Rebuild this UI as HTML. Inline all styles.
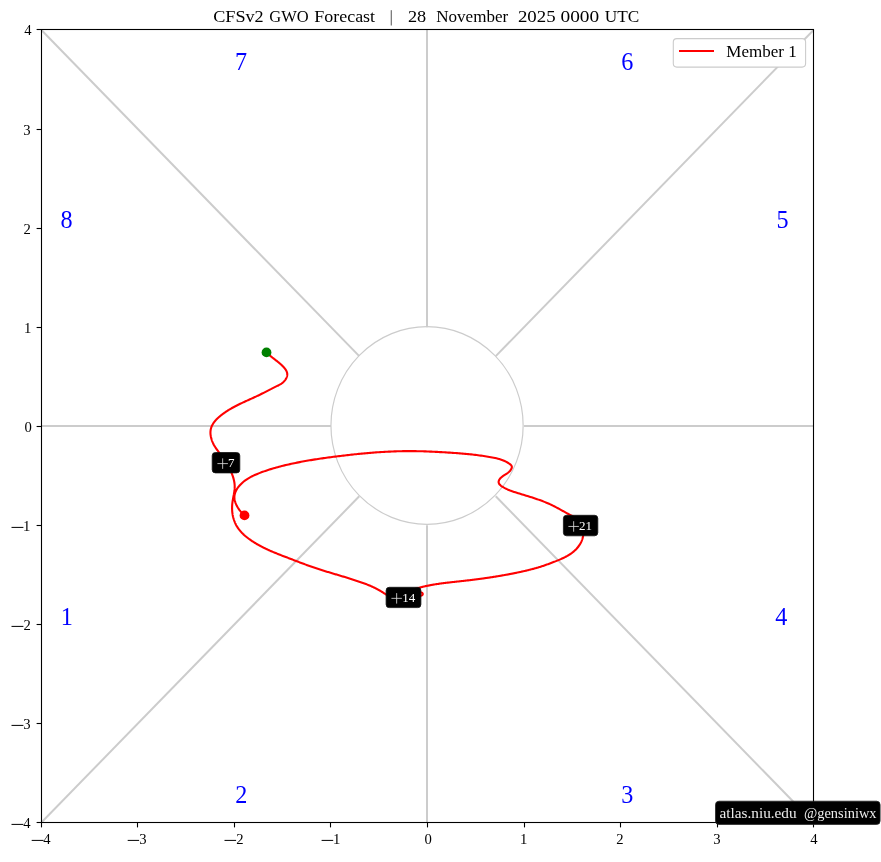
<!DOCTYPE html>
<html><head><meta charset="utf-8"><style>
html,body{margin:0;padding:0;background:#fff;width:881px;height:862px;overflow:hidden}
svg{display:block;will-change:transform}
text{font-family:"Liberation Serif",serif}
.ph{fill:#0000ff}
.tk{fill:#000}
.tt{font-size:17.5px;fill:#000}
.lg{font-size:17.5px;fill:#000}
.lb{fill:#fff}
.wm{font-size:14px;fill:#ececec}
</style></head><body>
<svg width="881" height="862" viewBox="0 0 881 862">
<g stroke="#cccccc" stroke-width="2" fill="none">
<line x1="41.4" y1="426" x2="330.98" y2="426"/>
<line x1="524.02" y1="426" x2="813.6" y2="426"/>
<line x1="427" y1="29.95" x2="427" y2="327.16"/>
<line x1="427" y1="525.29" x2="427" y2="822.5"/>
<line x1="41.4" y1="29.95" x2="359.25" y2="356.17"/>
<line x1="813.6" y1="29.95" x2="495.75" y2="356.17"/>
<line x1="41.4" y1="822.5" x2="359.25" y2="496.28"/>
<line x1="813.6" y1="822.5" x2="495.75" y2="496.28"/>
</g>
<ellipse cx="427.05" cy="425.5" rx="96.1" ry="98.8" stroke="#cccccc" stroke-width="1.2" fill="none"/>
<text x="234.95" y="69.70" class="ph" style="font-size:24.2px">7</text>
<text x="621.29" y="69.70" class="ph" style="font-size:24.2px">6</text>
<text x="60.50" y="227.60" class="ph" style="font-size:24.2px">8</text>
<text x="776.47" y="227.60" class="ph" style="font-size:24.2px">5</text>
<text x="60.76" y="625.10" class="ph" style="font-size:24.2px">1</text>
<text x="775.35" y="625.10" class="ph" style="font-size:24.2px">4</text>
<text x="235.34" y="802.80" class="ph" style="font-size:24.2px">2</text>
<text x="621.19" y="802.60" class="ph" style="font-size:24.2px">3</text>
<path d="M266.42 352.35 L266.82 352.75 L267.22 353.14 L267.62 353.52 L268.02 353.90 L268.43 354.27 L268.84 354.63 L269.24 354.99 L269.65 355.34 L270.07 355.69 L270.48 356.03 L270.89 356.37 L271.31 356.71 L271.72 357.04 L272.14 357.37 L272.55 357.70 L272.97 358.03 L273.39 358.35 L273.81 358.68 L274.23 359.00 L274.65 359.32 L275.07 359.65 L275.49 359.97 L275.91 360.30 L276.33 360.62 L276.75 360.95 L277.17 361.29 L277.59 361.62 L278.01 361.96 L278.43 362.30 L278.85 362.65 L279.27 363.00 L279.69 363.35 L280.11 363.71 L280.52 364.08 L280.94 364.45 L281.35 364.83 L281.76 365.22 L282.18 365.61 L282.59 366.02 L282.99 366.43 L283.39 366.84 L283.78 367.26 L284.16 367.69 L284.53 368.13 L284.88 368.57 L285.22 369.02 L285.53 369.47 L285.83 369.93 L286.11 370.39 L286.36 370.86 L286.58 371.33 L286.78 371.81 L286.94 372.29 L287.08 372.77 L287.17 373.26 L287.24 373.75 L287.26 374.24 L287.25 374.74 L287.20 375.23 L287.13 375.73 L287.02 376.22 L286.87 376.72 L286.70 377.21 L286.51 377.69 L286.28 378.17 L286.03 378.64 L285.76 379.11 L285.46 379.57 L285.14 380.02 L284.81 380.46 L284.45 380.89 L284.08 381.31 L283.69 381.71 L283.28 382.11 L282.87 382.48 L282.44 382.84 L282.00 383.19 L281.55 383.52 L281.09 383.83 L280.62 384.12 L280.15 384.41 L279.67 384.68 L279.19 384.94 L278.71 385.20 L278.22 385.44 L277.72 385.69 L277.23 385.93 L276.74 386.16 L276.24 386.40 L275.75 386.64 L275.26 386.88 L274.77 387.12 L274.28 387.36 L273.79 387.61 L273.30 387.85 L272.81 388.10 L272.33 388.34 L271.84 388.59 L271.36 388.84 L270.87 389.08 L270.39 389.33 L269.91 389.58 L269.42 389.83 L268.94 390.08 L268.46 390.33 L267.98 390.58 L267.50 390.83 L267.01 391.08 L266.53 391.33 L266.05 391.58 L265.57 391.83 L265.09 392.08 L264.61 392.33 L264.13 392.57 L263.65 392.82 L263.17 393.07 L262.69 393.31 L262.20 393.56 L261.72 393.80 L261.24 394.04 L260.76 394.28 L260.27 394.52 L259.79 394.76 L259.30 394.99 L258.82 395.23 L258.33 395.46 L257.84 395.69 L257.36 395.92 L256.87 396.15 L256.38 396.38 L255.89 396.61 L255.40 396.84 L254.91 397.06 L254.42 397.29 L253.93 397.51 L253.44 397.74 L252.95 397.96 L252.46 398.18 L251.97 398.40 L251.48 398.63 L250.99 398.85 L250.50 399.07 L250.01 399.29 L249.52 399.51 L249.03 399.73 L248.53 399.95 L248.04 400.18 L247.55 400.40 L247.06 400.62 L246.57 400.84 L246.08 401.06 L245.59 401.29 L245.10 401.51 L244.61 401.73 L244.12 401.96 L243.63 402.18 L243.14 402.41 L242.65 402.64 L242.17 402.87 L241.68 403.10 L241.19 403.33 L240.70 403.56 L240.22 403.79 L239.73 404.03 L239.25 404.26 L238.76 404.50 L238.28 404.74 L237.80 404.98 L237.31 405.22 L236.83 405.46 L236.35 405.71 L235.87 405.96 L235.39 406.20 L234.91 406.46 L234.44 406.71 L233.96 406.96 L233.48 407.22 L233.01 407.48 L232.54 407.74 L232.06 408.01 L231.59 408.28 L231.12 408.55 L230.65 408.82 L230.18 409.09 L229.72 409.37 L229.25 409.65 L228.79 409.94 L228.32 410.22 L227.86 410.51 L227.40 410.81 L226.94 411.10 L226.48 411.40 L226.03 411.70 L225.57 412.01 L225.12 412.32 L224.67 412.63 L224.22 412.95 L223.77 413.27 L223.32 413.59 L222.87 413.92 L222.43 414.25 L221.99 414.59 L221.55 414.93 L221.11 415.27 L220.67 415.62 L220.24 415.97 L219.81 416.33 L219.39 416.69 L218.96 417.06 L218.55 417.43 L218.14 417.80 L217.73 418.18 L217.33 418.56 L216.94 418.95 L216.56 419.34 L216.18 419.74 L215.81 420.14 L215.45 420.55 L215.10 420.96 L214.75 421.37 L214.42 421.79 L214.10 422.22 L213.78 422.65 L213.48 423.09 L213.19 423.53 L212.92 423.97 L212.65 424.42 L212.40 424.88 L212.16 425.34 L211.93 425.81 L211.72 426.28 L211.53 426.76 L211.35 427.24 L211.18 427.73 L211.03 428.23 L210.90 428.73 L210.78 429.23 L210.68 429.74 L210.60 430.26 L210.54 430.78 L210.49 431.31 L210.46 431.84 L210.45 432.38 L210.45 432.92 L210.47 433.46 L210.50 434.01 L210.55 434.55 L210.62 435.10 L210.70 435.65 L210.79 436.20 L210.89 436.75 L211.01 437.30 L211.14 437.85 L211.28 438.40 L211.44 438.94 L211.60 439.49 L211.78 440.03 L211.96 440.56 L212.16 441.10 L212.37 441.63 L212.58 442.15 L212.81 442.67 L213.04 443.18 L213.28 443.68 L213.53 444.18 L213.78 444.68 L214.05 445.16 L214.32 445.63 L214.59 446.10 L214.87 446.56 L215.16 447.02 L215.45 447.47 L215.74 447.91 L216.04 448.35 L216.34 448.78 L216.64 449.21 L216.95 449.64 L217.26 450.07 L217.57 450.49 L217.88 450.91 L218.20 451.34 L218.51 451.76 L218.82 452.18 L219.14 452.61 L219.45 453.03 L219.76 453.46 L220.07 453.89 L220.38 454.32 L220.68 454.76 L220.99 455.20 L221.28 455.65 L221.58 456.11 L221.87 456.57 L222.16 457.04 L222.44 457.51 L222.71 457.99 L222.98 458.49 L223.25 458.99 L223.50 459.50 M228.41 466.53 L228.78 467.22 L229.14 467.92 L229.50 468.62 L229.86 469.33 L230.20 470.04 L230.55 470.76 L230.88 471.48 L231.20 472.21 L231.52 472.94 L231.83 473.67 L232.12 474.41 L232.41 475.15 L232.68 475.90 L232.93 476.65 L233.18 477.40 L233.40 478.15 L233.62 478.91 L233.81 479.67 L233.99 480.43 L234.15 481.20 L234.29 481.97 L234.41 482.73 L234.52 483.51 L234.59 484.28 L234.65 485.05 L234.68 485.83 L234.69 486.60 L234.68 487.38 L234.65 488.15 L234.60 488.93 L234.53 489.71 L234.44 490.49 L234.34 491.27 L234.23 492.05 L234.10 492.84 L233.97 493.62 L233.84 494.40 L233.69 495.19 L233.55 495.98 L233.40 496.76 L233.25 497.55 L233.10 498.34 L232.96 499.13 L232.82 499.92 L232.69 500.72 L232.57 501.51 L232.46 502.30 L232.36 503.10 L232.28 503.89 L232.21 504.69 L232.15 505.49 L232.11 506.28 L232.09 507.08 L232.08 507.88 L232.08 508.67 L232.10 509.47 L232.14 510.26 L232.19 511.05 L232.26 511.84 L232.34 512.62 L232.44 513.40 L232.55 514.18 L232.68 514.95 L232.83 515.72 L232.99 516.49 L233.17 517.25 L233.37 518.01 L233.58 518.76 L233.80 519.50 L234.05 520.24 L234.31 520.97 L234.59 521.70 L234.88 522.41 L235.19 523.12 L235.52 523.82 L235.86 524.52 L236.22 525.20 L236.60 525.88 L237.00 526.54 L237.41 527.20 L237.84 527.84 L238.28 528.48 L238.74 529.11 L239.22 529.73 L239.71 530.34 L240.21 530.94 L240.73 531.54 L241.26 532.12 L241.80 532.70 L242.36 533.26 L242.92 533.82 L243.50 534.37 L244.08 534.92 L244.68 535.45 L245.28 535.98 L245.90 536.50 L246.52 537.01 L247.15 537.51 L247.79 538.01 L248.43 538.50 L249.08 538.98 L249.74 539.45 L250.40 539.92 L251.07 540.38 L251.74 540.83 L252.41 541.28 L253.09 541.72 L253.77 542.15 L254.46 542.58 L255.14 543.00 L255.83 543.41 L256.51 543.82 L257.20 544.22 L257.90 544.62 L258.59 545.01 L259.28 545.40 L259.98 545.78 L260.68 546.15 L261.38 546.52 L262.08 546.88 L262.78 547.24 L263.48 547.60 L264.19 547.95 L264.89 548.30 L265.60 548.64 L266.31 548.98 L267.02 549.31 L267.73 549.64 L268.44 549.97 L269.15 550.29 L269.87 550.61 L270.58 550.92 L271.30 551.24 L272.02 551.55 L272.74 551.85 L273.46 552.16 L274.18 552.46 L274.90 552.76 L275.62 553.06 L276.35 553.35 L277.07 553.64 L277.80 553.94 L278.52 554.23 L279.25 554.51 L279.98 554.80 L280.71 555.08 L281.44 555.37 L282.17 555.65 L282.90 555.93 L283.63 556.21 L284.36 556.50 L285.09 556.78 L285.83 557.06 L286.56 557.34 L287.30 557.61 L288.03 557.89 L288.77 558.17 L289.50 558.46 L290.24 558.74 L290.97 559.02 L291.71 559.30 L292.45 559.58 L293.19 559.86 L293.92 560.15 L294.66 560.43 L295.40 560.71 L296.14 561.00 L296.88 561.28 L297.62 561.56 L298.36 561.85 L299.10 562.13 L299.84 562.41 L300.59 562.69 L301.33 562.97 L302.07 563.25 L302.81 563.53 L303.56 563.81 L304.30 564.08 L305.05 564.36 L305.79 564.63 L306.54 564.91 L307.28 565.18 L308.03 565.45 L308.77 565.72 L309.52 565.98 L310.27 566.25 L311.02 566.51 L311.76 566.78 L312.51 567.04 L313.26 567.29 L314.01 567.55 L314.76 567.80 L315.51 568.05 L316.26 568.30 L317.01 568.55 L317.76 568.80 L318.52 569.04 L319.27 569.29 L320.02 569.53 L320.77 569.77 L321.53 570.01 L322.28 570.25 L323.03 570.48 L323.79 570.72 L324.54 570.95 L325.29 571.19 L326.05 571.42 L326.80 571.65 L327.56 571.88 L328.31 572.11 L329.07 572.34 L329.82 572.57 L330.57 572.79 L331.33 573.02 L332.08 573.25 L332.84 573.47 L333.60 573.70 L334.35 573.92 L335.11 574.15 L335.86 574.37 L336.62 574.60 L337.37 574.82 L338.13 575.05 L338.88 575.27 L339.64 575.50 L340.39 575.73 L341.15 575.95 L341.90 576.18 L342.66 576.41 L343.41 576.63 L344.16 576.86 L344.92 577.09 L345.67 577.32 L346.43 577.55 L347.18 577.78 L347.93 578.01 L348.69 578.25 L349.44 578.48 L350.19 578.71 L350.94 578.95 L351.69 579.19 L352.45 579.43 L353.20 579.67 L353.95 579.91 L354.70 580.15 L355.45 580.40 L356.20 580.64 L356.95 580.89 L357.70 581.14 L358.44 581.39 L359.19 581.65 L359.94 581.90 L360.69 582.16 L361.43 582.42 L362.18 582.68 L362.92 582.95 L363.66 583.22 L364.40 583.49 L365.14 583.77 L365.88 584.05 L366.62 584.33 L367.35 584.62 L368.08 584.92 L368.81 585.21 L369.54 585.52 L370.27 585.82 L370.99 586.14 L371.71 586.45 L372.43 586.78 L373.15 587.11 L373.86 587.44 L374.57 587.78 L375.28 588.13 L375.98 588.49 L376.68 588.85 L377.38 589.22 L378.07 589.59 L378.76 589.98 L379.45 590.37 L380.13 590.77 L380.81 591.17 L381.49 591.58 L382.16 592.00 L382.83 592.42 L383.50 592.84 L384.17 593.27 L384.84 593.70 L385.50 594.12 L386.17 594.55 L386.84 594.97 L387.51 595.39 L388.19 595.81 L388.86 596.22 L389.54 596.62 L390.22 597.02 L390.91 597.41 L391.60 597.79 L392.29 598.16 L392.99 598.51 M409.96 590.72 L410.58 590.49 L411.20 590.26 L411.81 590.04 L412.43 589.83 L413.05 589.61 L413.67 589.40 L414.30 589.20 L414.92 589.00 L415.54 588.80 L416.17 588.61 L416.79 588.42 L417.42 588.23 L418.05 588.05 L418.67 587.88 L419.30 587.70 L419.93 587.53 L420.56 587.36 L421.19 587.20 L421.82 587.04 L422.45 586.88 L423.09 586.73 L423.72 586.58 L424.35 586.43 L424.99 586.28 L425.62 586.14 L426.26 586.00 L426.89 585.87 L427.53 585.74 L428.17 585.61 L428.81 585.48 L429.45 585.35 L430.08 585.23 L430.72 585.11 L431.36 584.99 L432.00 584.88 L432.65 584.76 L433.29 584.65 L433.93 584.55 L434.57 584.44 L435.21 584.33 L435.86 584.23 L436.50 584.13 L437.15 584.03 L437.79 583.94 L438.44 583.84 L439.08 583.75 L439.73 583.66 L440.37 583.57 L441.02 583.48 L441.66 583.39 L442.31 583.31 L442.96 583.22 L443.61 583.14 L444.25 583.06 L444.90 582.98 L445.55 582.90 L446.20 582.82 L446.85 582.74 L447.50 582.66 L448.15 582.59 L448.79 582.51 L449.44 582.44 L450.09 582.37 L450.74 582.29 L451.39 582.22 L452.04 582.15 L452.69 582.08 L453.34 582.01 L453.99 581.93 L454.64 581.86 L455.29 581.79 L455.94 581.72 L456.59 581.65 L457.24 581.58 L457.90 581.51 L458.55 581.44 L459.20 581.37 L459.85 581.30 L460.50 581.23 L461.15 581.16 L461.80 581.08 L462.45 581.01 L463.10 580.94 L463.75 580.87 L464.40 580.79 L465.05 580.72 L465.70 580.64 L466.35 580.57 L467.00 580.49 L467.65 580.41 L468.29 580.34 L468.94 580.26 L469.59 580.18 L470.24 580.11 L470.89 580.03 L471.54 579.95 L472.19 579.87 L472.84 579.79 L473.49 579.71 L474.14 579.63 L474.78 579.54 L475.43 579.46 L476.08 579.38 L476.73 579.29 L477.38 579.21 L478.03 579.13 L478.67 579.04 L479.32 578.95 L479.97 578.87 L480.62 578.78 L481.26 578.69 L481.91 578.60 L482.56 578.52 L483.21 578.43 L483.85 578.34 L484.50 578.25 L485.15 578.15 L485.79 578.06 L486.44 577.97 L487.09 577.87 L487.73 577.78 L488.38 577.69 L489.02 577.59 L489.67 577.49 L490.32 577.40 L490.96 577.30 L491.61 577.20 L492.25 577.10 L492.90 577.00 L493.54 576.90 L494.19 576.80 L494.83 576.70 L495.48 576.59 L496.12 576.49 L496.77 576.39 L497.41 576.28 L498.05 576.17 L498.70 576.07 L499.34 575.96 L499.98 575.85 L500.63 575.74 L501.27 575.63 L501.91 575.52 L502.56 575.41 L503.20 575.30 L503.84 575.18 L504.48 575.07 L505.13 574.95 L505.77 574.84 L506.41 574.72 L507.05 574.60 L507.69 574.48 L508.33 574.36 L508.97 574.24 L509.61 574.12 L510.26 574.00 L510.90 573.87 L511.54 573.75 L512.18 573.62 L512.82 573.50 L513.46 573.37 L514.09 573.24 L514.73 573.11 L515.37 572.98 L516.01 572.85 L516.65 572.72 L517.29 572.59 L517.93 572.45 L518.57 572.32 L519.20 572.18 L519.84 572.05 L520.48 571.91 L521.11 571.77 L521.75 571.63 L522.39 571.49 L523.02 571.34 L523.66 571.20 L524.30 571.06 L524.93 570.91 L525.57 570.76 L526.20 570.61 L526.84 570.46 L527.47 570.31 L528.10 570.16 L528.74 570.00 L529.37 569.85 L530.00 569.69 L530.63 569.53 L531.26 569.36 L531.89 569.20 L532.52 569.04 L533.15 568.87 L533.78 568.70 L534.40 568.53 L535.03 568.35 L535.66 568.18 L536.28 568.00 L536.91 567.82 L537.53 567.63 L538.15 567.45 L538.77 567.26 L539.40 567.07 L540.02 566.88 L540.63 566.68 L541.25 566.48 L541.87 566.28 L542.49 566.08 L543.10 565.88 L543.72 565.67 L544.33 565.46 L544.95 565.25 L545.56 565.03 L546.17 564.82 L546.79 564.60 L547.40 564.38 L548.02 564.16 L548.63 563.93 L549.24 563.71 L549.86 563.48 L550.47 563.25 L551.08 563.02 L551.70 562.79 L552.31 562.56 L552.93 562.32 L553.54 562.09 L554.16 561.85 L554.77 561.61 L555.39 561.37 L556.01 561.13 L556.62 560.88 L557.24 560.64 L557.85 560.39 L558.47 560.14 L559.08 559.88 L559.69 559.62 L560.30 559.36 L560.91 559.09 L561.52 558.82 L562.12 558.55 L562.72 558.27 L563.32 557.99 L563.91 557.70 L564.50 557.41 L565.09 557.11 L565.67 556.80 L566.25 556.49 L566.82 556.18 L567.39 555.85 L567.96 555.53 L568.52 555.19 L569.07 554.85 L569.62 554.50 L570.16 554.14 L570.70 553.78 L571.23 553.41 L571.76 553.03 L572.27 552.64 L572.78 552.24 L573.29 551.83 L573.78 551.42 L574.27 550.99 L574.75 550.56 L575.22 550.12 L575.68 549.67 L576.13 549.21 L576.58 548.74 L577.01 548.26 L577.43 547.77 L577.84 547.28 L578.24 546.77 L578.63 546.26 L579.01 545.74 L579.37 545.21 L579.72 544.67 L580.06 544.13 L580.38 543.57 L580.69 543.01 L580.98 542.44 L581.26 541.87 L581.53 541.28 L581.78 540.69 L582.01 540.09 L582.22 539.49 L582.42 538.87 L582.60 538.25 L582.77 537.63 L582.91 536.99 L583.04 536.35 L583.14 535.71 L583.23 535.05 L583.30 534.39 L583.35 533.72 L583.37 533.05 L583.38 532.37 L583.36 531.69 L583.33 531.00 L583.27 530.30 L583.18 529.60 L583.08 528.89 M578.02 518.97 L576.73 518.36 L575.45 517.74 L574.18 517.11 L572.91 516.46 L571.65 515.80 L570.40 515.13 L569.14 514.45 L567.90 513.76 L566.65 513.07 L565.41 512.38 L564.16 511.68 L562.92 510.99 L561.68 510.30 L560.43 509.61 L559.19 508.92 L557.93 508.24 L556.68 507.57 L555.42 506.91 L554.16 506.26 L552.88 505.62 L551.61 505.00 L550.32 504.39 L549.02 503.81 L547.72 503.23 L546.41 502.68 L545.09 502.14 L543.77 501.61 L542.44 501.10 L541.10 500.60 L539.76 500.11 L538.42 499.63 L537.07 499.16 L535.72 498.70 L534.36 498.25 L533.01 497.81 L531.65 497.37 L530.29 496.94 L528.93 496.51 L527.57 496.09 L526.21 495.67 L524.85 495.26 L523.50 494.84 L522.14 494.43 L520.79 494.01 L519.44 493.59 L518.10 493.18 L516.76 492.76 L515.42 492.33 L514.09 491.90 L512.76 491.45 L511.44 490.99 L510.12 490.50 L508.80 489.97 L507.48 489.41 L506.16 488.81 L504.85 488.15 L503.53 487.44 L502.22 486.66 L500.97 485.80 L499.90 484.84 L499.09 483.75 L498.65 482.54 L498.64 481.27 L499.09 480.02 L499.89 478.82 L500.90 477.74 L502.00 476.79 L503.16 475.95 L504.35 475.17 L505.57 474.41 L506.80 473.61 L508.01 472.74 L509.15 471.77 L510.19 470.66 L511.09 469.40 L511.72 468.06 L511.88 466.77 L511.46 465.64 L510.60 464.66 L509.50 463.80 L508.33 463.00 L507.13 462.28 L505.88 461.61 L504.61 461.01 L503.31 460.45 L501.99 459.95 L500.64 459.49 L499.28 459.08 L497.90 458.70 L496.50 458.35 L495.09 458.03 L493.68 457.73 L492.26 457.45 L490.83 457.19 L489.41 456.94 L487.99 456.70 L486.57 456.47 L485.15 456.25 L483.73 456.03 L482.32 455.82 L480.90 455.62 L479.49 455.43 L478.07 455.24 L476.66 455.07 L475.25 454.89 L473.84 454.73 L472.43 454.57 L471.02 454.41 L469.61 454.27 L468.20 454.12 L466.79 453.99 L465.39 453.85 L463.98 453.73 L462.57 453.60 L461.16 453.49 L459.75 453.37 L458.34 453.26 L456.93 453.15 L455.52 453.05 L454.11 452.95 L452.70 452.85 L451.29 452.76 L449.88 452.67 L448.47 452.58 L447.05 452.49 L445.64 452.41 L444.22 452.32 L442.80 452.24 L441.39 452.16 L439.97 452.08 L438.54 452.00 L437.12 451.92 L435.70 451.85 L434.28 451.78 L432.85 451.71 L431.43 451.64 L430.00 451.58 L428.57 451.52 L427.15 451.46 L425.72 451.41 L424.29 451.36 L422.87 451.31 L421.44 451.27 L420.01 451.24 L418.59 451.20 L417.16 451.18 L415.73 451.15 L414.31 451.13 L412.88 451.12 L411.45 451.11 L410.03 451.11 L408.60 451.11 L407.18 451.12 L405.76 451.13 L404.33 451.15 L402.91 451.17 L401.49 451.20 L400.07 451.23 L398.64 451.27 L397.22 451.31 L395.80 451.35 L394.38 451.40 L392.96 451.46 L391.54 451.52 L390.12 451.58 L388.70 451.65 L387.28 451.72 L385.86 451.79 L384.45 451.87 L383.03 451.95 L381.61 452.04 L380.19 452.13 L378.78 452.23 L377.36 452.32 L375.94 452.42 L374.52 452.53 L373.11 452.64 L371.69 452.75 L370.28 452.86 L368.86 452.98 L367.45 453.10 L366.03 453.23 L364.61 453.36 L363.20 453.49 L361.79 453.62 L360.37 453.76 L358.96 453.90 L357.54 454.04 L356.13 454.18 L354.71 454.33 L353.30 454.48 L351.89 454.63 L350.47 454.79 L349.06 454.95 L347.65 455.10 L346.23 455.27 L344.82 455.43 L343.41 455.60 L341.99 455.76 L340.58 455.93 L339.17 456.11 L337.75 456.28 L336.34 456.46 L334.93 456.63 L333.52 456.81 L332.10 457.00 L330.69 457.18 L329.28 457.37 L327.87 457.56 L326.46 457.75 L325.05 457.95 L323.64 458.15 L322.23 458.35 L320.82 458.55 L319.41 458.76 L318.00 458.98 L316.59 459.19 L315.19 459.41 L313.78 459.63 L312.37 459.86 L310.97 460.09 L309.57 460.33 L308.16 460.57 L306.76 460.81 L305.36 461.06 L303.96 461.31 L302.56 461.57 L301.16 461.83 L299.77 462.10 L298.37 462.37 L296.98 462.65 L295.58 462.93 L294.19 463.21 L292.80 463.51 L291.41 463.81 L290.02 464.11 L288.64 464.42 L287.25 464.74 L285.87 465.06 L284.49 465.39 L283.11 465.72 L281.73 466.07 L280.35 466.42 L278.98 466.78 L277.61 467.15 L276.24 467.53 L274.87 467.92 L273.51 468.31 L272.15 468.72 L270.79 469.13 L269.43 469.56 L268.08 470.00 L266.73 470.44 L265.38 470.90 L264.04 471.37 L262.70 471.86 L261.36 472.35 L260.02 472.86 L258.69 473.38 L257.37 473.91 L256.05 474.47 L254.74 475.04 L253.45 475.64 L252.16 476.26 L250.90 476.91 L249.65 477.59 L248.43 478.30 L247.22 479.04 L246.05 479.83 L244.90 480.65 L243.77 481.52 L242.68 482.44 L241.63 483.40 L240.61 484.41 L239.62 485.47 L238.69 486.58 L237.81 487.74 L237.01 488.95 L236.29 490.19 L235.66 491.47 L235.15 492.78 L234.76 494.13 L234.50 495.49 L234.38 496.88 L234.42 498.28 L234.62 499.70 L234.95 501.11 L235.40 502.51 L235.93 503.88 L236.54 505.21 L237.20 506.50 L237.92 507.73 L238.69 508.93 L239.51 510.07 L240.39 511.18 L241.32 512.24 L242.29 513.27 L243.32 514.25 L244.40 515.20 M412 596.2 C418 596.2 422.8 596.4 422.8 594 C422.8 591.6 418 591.7 412 591.9" stroke="#ff0000" stroke-width="2.1" fill="none" stroke-linejoin="round" stroke-linecap="round"/>
<circle cx="266.5" cy="352.4" r="4.9" fill="#008000"/>
<circle cx="244.5" cy="515.4" r="4.9" fill="#ff0000"/>
<rect x="212.2" y="452.5" width="27.60" height="20.40" rx="3.2" fill="#000" stroke="#111" stroke-width="0.8"/>
<path d="M217.40 463.60H227.90M222.65 458.35V468.85" stroke="#fff" stroke-width="0.85" opacity="0.85"/>
<text x="227.96" y="466.90" class="lb" style="font-size:13.0px">7</text>
<rect x="386.1" y="587.3" width="34.80" height="20.30" rx="3.2" fill="#000" stroke="#111" stroke-width="0.8"/>
<path d="M391.40 598.35H401.90M396.65 593.10V603.60" stroke="#fff" stroke-width="0.85" opacity="0.85"/>
<text x="402.33" y="601.90" class="lb" style="font-size:13.0px">14</text>
<rect x="563.4" y="515.3" width="34.40" height="20.50" rx="3.2" fill="#000" stroke="#111" stroke-width="0.8"/>
<path d="M568.40 526.45H578.90M573.65 521.20V531.70" stroke="#fff" stroke-width="0.85" opacity="0.85"/>
<text x="579.00" y="530.10" class="lb" style="font-size:13.0px">21</text>
<rect x="41.5" y="29.5" width="772" height="793" fill="none" stroke="#000" stroke-width="1.1"/>
<line x1="41.50" y1="822.5" x2="41.50" y2="827.4" stroke="#000" stroke-width="1.1"/>
<line x1="36.6" y1="822.50" x2="41.5" y2="822.50" stroke="#000" stroke-width="1.1"/>
<line x1="31.70" y1="840.4" x2="43.60" y2="840.4" stroke="#000" stroke-width="1.0"/>
<text x="43.31" y="843.70" class="tk" style="font-size:14.65px">4</text>
<line x1="11.5" y1="824.40" x2="23.4" y2="824.40" stroke="#000" stroke-width="1.0"/>
<text x="23.21" y="827.90" class="tk" style="font-size:14.65px">4</text>
<line x1="137.50" y1="822.5" x2="137.50" y2="827.4" stroke="#000" stroke-width="1.1"/>
<line x1="36.6" y1="723.50" x2="41.5" y2="723.50" stroke="#000" stroke-width="1.1"/>
<line x1="127.70" y1="840.4" x2="139.10" y2="840.4" stroke="#000" stroke-width="1.0"/>
<text x="139.32" y="843.70" class="tk" style="font-size:14.65px">3</text>
<line x1="11.5" y1="725.40" x2="23.4" y2="725.40" stroke="#000" stroke-width="1.0"/>
<text x="23.27" y="728.90" class="tk" style="font-size:14.65px">3</text>
<line x1="234.50" y1="822.5" x2="234.50" y2="827.4" stroke="#000" stroke-width="1.1"/>
<line x1="36.6" y1="624.50" x2="41.5" y2="624.50" stroke="#000" stroke-width="1.1"/>
<line x1="224.50" y1="840.4" x2="236.10" y2="840.4" stroke="#000" stroke-width="1.0"/>
<text x="236.37" y="843.70" class="tk" style="font-size:14.65px">2</text>
<line x1="11.5" y1="626.40" x2="23.4" y2="626.40" stroke="#000" stroke-width="1.0"/>
<text x="23.42" y="629.90" class="tk" style="font-size:14.65px">2</text>
<line x1="330.50" y1="822.5" x2="330.50" y2="827.4" stroke="#000" stroke-width="1.1"/>
<line x1="36.6" y1="525.50" x2="41.5" y2="525.50" stroke="#000" stroke-width="1.1"/>
<line x1="321.60" y1="840.4" x2="333.20" y2="840.4" stroke="#000" stroke-width="1.0"/>
<text x="333.03" y="843.70" class="tk" style="font-size:14.65px">1</text>
<line x1="11.5" y1="527.40" x2="23.4" y2="527.40" stroke="#000" stroke-width="1.0"/>
<text x="23.08" y="530.90" class="tk" style="font-size:14.65px">1</text>
<line x1="427.50" y1="822.5" x2="427.50" y2="827.4" stroke="#000" stroke-width="1.1"/>
<line x1="36.6" y1="426.50" x2="41.5" y2="426.50" stroke="#000" stroke-width="1.1"/>
<text x="424.44" y="843.70" class="tk" style="font-size:14.65px">0</text>
<text x="24.44" y="431.90" class="tk" style="font-size:14.65px">0</text>
<line x1="524.50" y1="822.5" x2="524.50" y2="827.4" stroke="#000" stroke-width="1.1"/>
<line x1="36.6" y1="327.50" x2="41.5" y2="327.50" stroke="#000" stroke-width="1.1"/>
<text x="519.98" y="843.70" class="tk" style="font-size:14.65px">1</text>
<text x="24.03" y="332.90" class="tk" style="font-size:14.65px">1</text>
<line x1="620.50" y1="822.5" x2="620.50" y2="827.4" stroke="#000" stroke-width="1.1"/>
<line x1="36.6" y1="228.50" x2="41.5" y2="228.50" stroke="#000" stroke-width="1.1"/>
<text x="616.37" y="843.70" class="tk" style="font-size:14.65px">2</text>
<text x="23.42" y="233.90" class="tk" style="font-size:14.65px">2</text>
<line x1="717.50" y1="822.5" x2="717.50" y2="827.4" stroke="#000" stroke-width="1.1"/>
<line x1="36.6" y1="129.50" x2="41.5" y2="129.50" stroke="#000" stroke-width="1.1"/>
<text x="713.22" y="843.70" class="tk" style="font-size:14.65px">3</text>
<text x="23.27" y="134.90" class="tk" style="font-size:14.65px">3</text>
<line x1="813.50" y1="822.5" x2="813.50" y2="827.4" stroke="#000" stroke-width="1.1"/>
<line x1="36.6" y1="29.50" x2="41.5" y2="29.50" stroke="#000" stroke-width="1.1"/>
<text x="810.21" y="843.70" class="tk" style="font-size:14.65px">4</text>
<text x="24.26" y="34.90" class="tk" style="font-size:14.65px">4</text>
<text x="213.20" y="21.7" class="tt" textLength="50.50" lengthAdjust="spacingAndGlyphs">CFSv2</text>
<text x="269.30" y="21.7" class="tt" textLength="39.40" lengthAdjust="spacingAndGlyphs">GWO</text>
<text x="314.30" y="21.7" class="tt" textLength="60.80" lengthAdjust="spacingAndGlyphs">Forecast</text>
<text x="407.90" y="21.7" class="tt" textLength="18.30" lengthAdjust="spacingAndGlyphs">28</text>
<text x="436.20" y="21.7" class="tt" textLength="72.00" lengthAdjust="spacingAndGlyphs">November</text>
<text x="517.90" y="21.7" class="tt" textLength="37.70" lengthAdjust="spacingAndGlyphs">2025</text>
<text x="560.50" y="21.7" class="tt" textLength="38.70" lengthAdjust="spacingAndGlyphs">0000</text>
<text x="604.80" y="21.7" class="tt" textLength="34.50" lengthAdjust="spacingAndGlyphs">UTC</text>
<line x1="391.25" y1="10.2" x2="391.25" y2="25.5" stroke="#000" stroke-width="1.0" stroke-opacity="0.68"/>
<rect x="673.3" y="38.6" width="132.3" height="28.5" rx="3.5" fill="#fff" stroke="#cccccc" stroke-width="1.1"/>
<line x1="679" y1="50.9" x2="714" y2="50.9" stroke="#ff0000" stroke-width="2"/>
<text x="726.30" y="56.9" class="lg" textLength="70.40" lengthAdjust="spacingAndGlyphs">Member 1</text>
<rect x="715.5" y="801.2" width="164.6" height="23.2" rx="3.5" fill="#000" stroke="#222" stroke-width="0.8"/>
<text x="719.60" y="817.6" class="wm" textLength="77.00" lengthAdjust="spacingAndGlyphs">atlas.niu.edu</text>
<text x="804.00" y="817.6" class="wm" textLength="72.50" lengthAdjust="spacingAndGlyphs">@gensiniwx</text>
</svg>
</body></html>
